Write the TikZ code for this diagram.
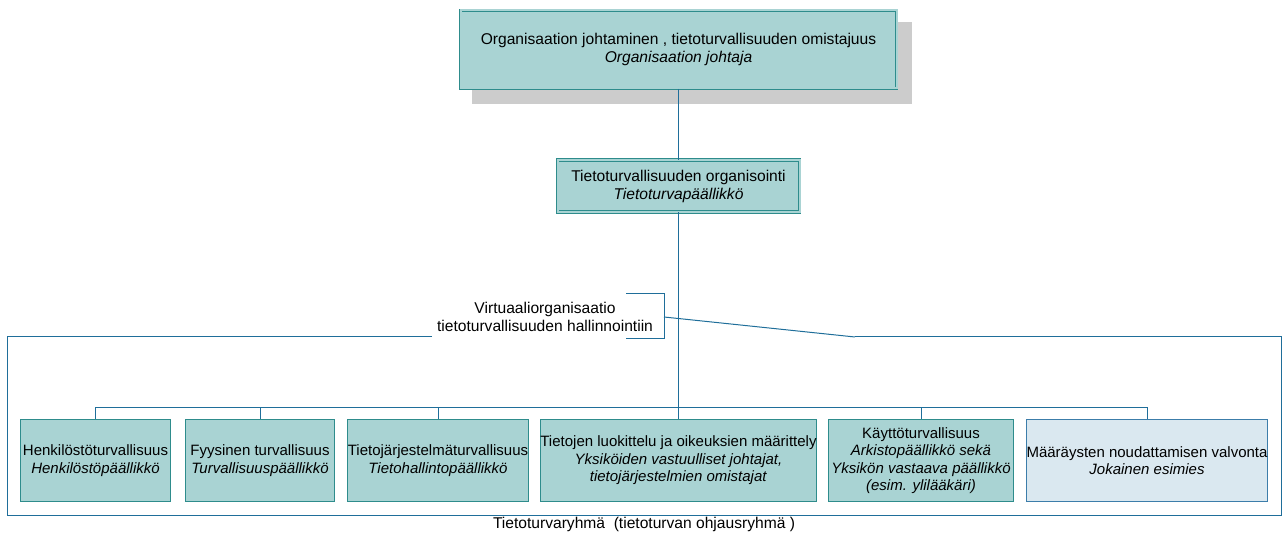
\documentclass[tikz,border=0pt]{standalone}
\usepackage{fontspec}
\setmainfont{Liberation Sans}
\usepackage{tikz}
\usetikzlibrary{calc}
\definecolor{tealcolor}{RGB}{169, 211, 211}
\definecolor{tealborder}{RGB}{46, 140, 140}
\definecolor{linecolor}{RGB}{31, 110, 154}
\definecolor{shadowcolor}{RGB}{204, 204, 204}
\definecolor{lightcolor}{RGB}{218, 232, 240}
\definecolor{lightborder}{RGB}{60, 125, 170}

\begin{document}
\begin{tikzpicture}[x=1pt, y=-1pt,
    every node/.style={font=\fontsize{15.6}{18}\selectfont, align=center, inner sep=0pt},
    rolebox/.style={draw=tealborder, fill=tealcolor, line width=1pt, font=\fontsize{15}{17.5}\selectfont},
    lightbox/.style={draw=lightborder, fill=lightcolor, line width=1pt, font=\fontsize{15}{17.5}\selectfont},
    headbox/.style={draw=tealborder, fill=tealcolor, double=tealcolor, double distance=2pt, line width=0.8pt},
    conn/.style={draw=linecolor, line width=1pt}]
    % Define the height of the lower boxes
    \newcommand{\boxheight}{82}
    \useasboundingbox (0,0) rectangle (1287,534);

    % Shadow of the top box
    \fill[shadowcolor] (472,22) rectangle (912,104);

    % Top box
    \node[headbox, minimum width=436pt, minimum height=78pt] (johto) at (678.5,49.5)
        {Organisaation johtaminen , tietoturvallisuuden omistajuus\\\textit{Organisaation johtaja}};

    % Second box
    \node[headbox, minimum width=242pt, minimum height=52pt] (organisointi) at (678.5,186)
        {Tietoturvallisuuden organisointi\\\textit{Tietoturvapäällikkö}};

    % Frame of the group
    \draw[conn] (432,337) -- (7,337) -- (7,515) -- (1281,515) -- (1281,337) -- (855,337);
    \node (ryhma) at (644,524) {Tietoturvaryhmä\ \ (tietoturvan ohjausryhmä\ )};

    % Callout of the frame
    \node (virtuaali) at (545,316.5) {Virtuaaliorganisaatio\\tietoturvallisuuden hallinnointiin};
    \draw[conn] (626,294) -- (664,294) -- (664,339) -- (626,339);
    \draw[conn] (664,317) -- (855,337);

    % Lower boxes
    \node[rolebox, minimum width=150pt, minimum height=\boxheight pt] (henkilo) at (95.5,460.5)
        {Henkilöstöturvallisuus\\\textit{Henkilöstöpäällikkö}};
    \node[rolebox, minimum width=149pt, minimum height=\boxheight pt] (fyysinen) at (260,460.5)
        {Fyysinen turvallisuus\\\textit{Turvallisuuspäällikkö}};
    \node[rolebox, minimum width=177pt, minimum height=\boxheight pt] (tietojarj) at (438,460.5)
        {Tietojärjestelmäturvallisuus\\\textit{Tietohallintopäällikkö}};
    \node[rolebox, minimum width=274pt, minimum height=\boxheight pt] (luokittelu) at (678.5,460.5)
        {Tietojen luokittelu ja oikeuksien määrittely\\\textit{Yksiköiden vastuulliset johtajat,}\\\textit{tietojärjestelmien omistajat}};
    \node[rolebox, minimum width=185pt, minimum height=\boxheight pt] (kaytto) at (921,460.5)
        {Käyttöturvallisuus\\\textit{Arkistopäällikkö sekä}\\\textit{Yksikön vastaava päällikkö}\\\textit{(esim. ylilääkäri)}};
    \node[lightbox, minimum width=239pt, minimum height=\boxheight pt] (valvonta) at (1147,460.5)
        {Määräysten noudattamisen valvonta\\\textit{Jokainen esimies}};

    % Connectors
    \coordinate (bus) at (0,407);
    \draw[conn] (johto.south) -- (organisointi.north);
    \foreach \b in {henkilo, fyysinen, tietojarj, luokittelu, kaytto, valvonta}
        \draw[conn] (organisointi.south) -- (organisointi.south |- bus) -| (\b.north);
\end{tikzpicture}
\end{document}
